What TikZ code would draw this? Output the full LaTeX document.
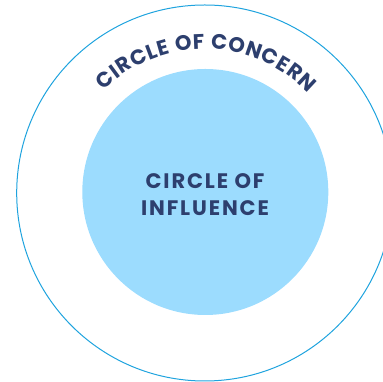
\documentclass[tikz,border=0pt]{standalone}
\usepackage{fontspec}
\setmainfont{Poppins}
\newfontfamily\discfont{Poppins}[LetterSpace=9]
\usetikzlibrary{decorations.text}
\definecolor{navy}{HTML}{2D3F6E}
\definecolor{skyfill}{HTML}{9CDCFE}
\definecolor{ringblue}{HTML}{1FA3DE}
\begin{document}
\begin{tikzpicture}[x=1pt,y=1pt]

    % styles
    \tikzstyle{ring} = [circle,draw=ringblue,line width=1pt,inner sep=0pt]
    \tikzstyle{disc} = [circle,fill=skyfill,inner sep=0pt]
    \tikzstyle{caption} = [text=navy,align=center,
        font=\discfont\fontsize{21}{26.7}\selectfont\bfseries]

    \useasboundingbox (0,0) rectangle (383,382);

    % circle of concern
    \node[ring,minimum size=376pt] (concern) at (204.7,189) {};
    \path[decorate,decoration={text along path,text align=fit to path,text color=navy,
        text={|\fontsize{21}{21}\selectfont\bfseries|CIRCLE OF CONCERN}}]
        ([shift={(134.5:144)}]concern.center) arc[start angle=134.5,end angle=44,radius=144];

    % circle of influence
    \node[disc,minimum size=246pt] (influence) at (205.3,190) {};
    \node[caption] (influencetext) at (205,187.5) {CIRCLE OF\\INFLUENCE};
\end{tikzpicture}
\end{document}
